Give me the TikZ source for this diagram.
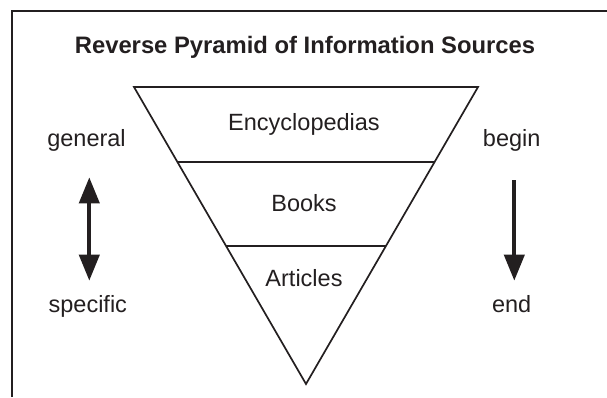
\documentclass[tikz,border=0pt]{standalone}
\usepackage{fontspec}
\setmainfont{Liberation Sans}
\usetikzlibrary{arrows.meta,calc}
\definecolor{inkgray}{RGB}{35,31,32}

\tikzset{
  lbltext/.style={text=inkgray, anchor=base, font=\fontsize{23.5}{28}\selectfont},
  titletext/.style={text=inkgray, anchor=base, font=\fontsize{23.8}{28}\selectfont\bfseries},
  pyrline/.style={draw=inkgray, line width=1.7pt},
  bigarrow/.style={draw=inkgray, line width=4pt, arrows={-Triangle[length=26pt, width=20pt]}},
}

\begin{document}
\begin{tikzpicture}[x=1pt, y=-1pt]
    \useasboundingbox (0,0) rectangle (607,397);
    % Frame (top and left edge only)
    \draw[inkgray, line width=2.2pt] (12,397) -- (12,11) -- (607,11);

    % Title
    \node[titletext] (title) at (305,53.3) {Reverse Pyramid of Information Sources};

    % Pyramid
    \coordinate (topL) at (134,87);
    \coordinate (topR) at (478,87);
    \coordinate (apex) at (306,384);
    \draw[pyrline, line join=miter] (topL) -- (topR) -- (apex) -- cycle;
    % Layers
    \coordinate (cut1L) at ($(topL)!0.2525!(apex)$);
    \coordinate (cut1R) at ($(topR)!0.2525!(apex)$);
    \coordinate (cut2L) at ($(topL)!0.5354!(apex)$);
    \coordinate (cut2R) at ($(topR)!0.5354!(apex)$);
    \draw[pyrline] (cut1L) -- (cut1R);
    \draw[pyrline] (cut2L) -- (cut2R);
    \node[lbltext] (ency) at (304,130) {Encyclopedias};
    \node[lbltext] (books) at (304,211.7) {Books};
    \node[lbltext] (arts) at (304,286) {Articles};

    % Left side
    \node[lbltext] (general) at (86.5,146) {general};
    \node[lbltext] (specific) at (87.8,312.3) {specific};
    \coordinate (genUp) at (89.3,177.3);
    \coordinate (genDown) at (89.3,280.7);
    \draw[bigarrow, arrows={Triangle[length=26pt, width=20pt]-Triangle[length=26pt, width=20pt]}] (genUp) -- (genDown);

    % Right side
    \node[lbltext] (begin) at (511.7,146) {begin};
    \node[lbltext] (end) at (511.7,312.3) {end};
    \coordinate (runTop) at (514.3,180);
    \coordinate (runEnd) at (514.3,280.7);
    \draw[bigarrow] (runTop) -- (runEnd);
\end{tikzpicture}
\end{document}
